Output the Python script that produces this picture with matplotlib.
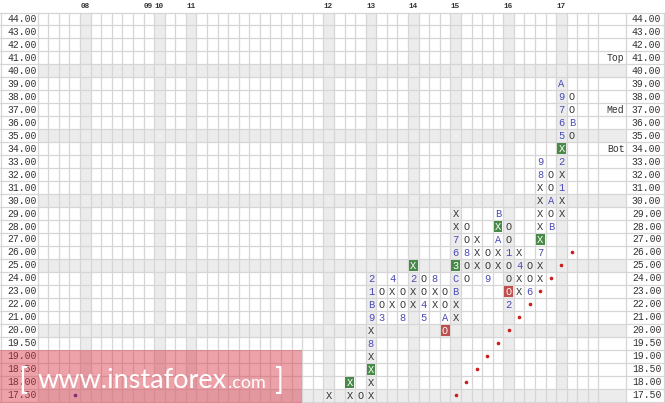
import matplotlib
matplotlib.use('Agg')
import matplotlib.pyplot as plt
from matplotlib.patches import Rectangle

# price levels of the rows, top to bottom
prices = [44, 43, 42, 41, 40, 39, 38, 37, 36, 35, 34, 33, 32, 31, 30, 29, 28, 27, 26, 25,
          24, 23, 22, 21, 20, 19.5, 19, 18.5, 18, 17.5]

# point & figure columns: (column, direction, first price, symbols in drawing order)
pf_columns = [
    (-4, 'up', 17.5, 'X'),
    (-2, 'up', 17.5, 'XX'),
    (-1, 'down', 17.5, 'O'),
    (0, 'up', 17.5, 'XXXX8X9B12'),
    (1, 'down', 23, 'OO3'),
    (2, 'up', 22, 'XX4'),
    (3, 'down', 23, 'OO8'),
    (4, 'up', 22, 'XX2X'),
    (5, 'down', 24, 'OO45'),
    (6, 'up', 22, 'XX8'),
    (7, 'down', 23, 'OOAO'),
    (8, 'up', 21, 'XXBC367XX'),
    (9, 'down', 28, 'OO8OO'),
    (10, 'up', 25, 'XXX'),
    (11, 'down', 26, 'OO9'),
    (12, 'up', 25, 'XXAXB'),
    (13, 'down', 28, 'OO1OOO2'),
    (14, 'up', 23, 'XX4X'),
    (15, 'down', 25, 'OO6'),
    (16, 'up', 24, 'XX7XXXXX89'),
    (17, 'down', 32, 'OOAOB'),
    (18, 'up', 29, 'XX1X2X5679A'),
    (19, 'down', 38, 'OOBO'),
]

# highlighted boxes (column, price)
green_boxes = [(-2, 18), (0, 18.5), (4, 25), (8, 25), (12, 28), (16, 27), (18, 34)]
red_boxes = [(7, 20), (13, 23)]

# trend line dots
trend_cols = [8, 9, 10, 11, 12, 13, 14, 15, 16, 17, 18, 19]
trend_prices = [17.5, 18, 18.5, 19, 19.5, 20, 21, 22, 23, 24, 25, 26]
old_dot = (-28, 17.5)

# year labels on top
year_cols = [-27, -21, -20, -17, -4, 0, 4, 8, 13, 18]
year_labels = ['08', '09', '10', '11', '12', '13', '14', '15', '16', '17']
shaded_cols = [-27, -20, -17, -4, 0, 4, 8, 13, 18]
shaded_prices = [40, 35, 30, 25, 20, 17.5]

# Top / Med / Bot markers
level_names = ['Top', 'Med', 'Bot']
level_prices = [41, 37, 34]

W, H = 665, 403
C0, CW = 371, 10.58
R0, RH = 19, 12.97
first_col, last_col = -31, 21
lab_right = (626 - C0) / CW

GRID = '#d6d6d6'
SHADE = '#ececec'
INK = '#333333'
MONTH = '#4b4bb8'
MONO = 'Liberation Mono'


def row(p):
    return prices.index(p)


fig = plt.figure(figsize=(W / 100, H / 100), dpi=100)
ax = fig.add_axes([0, 0, 1, 1])
ax.set_xlim(-C0 / CW, (W - C0) / CW)
ax.set_ylim((H - R0) / RH, -R0 / RH)
ax.axis('off')

nrows = len(prices)
x_left = -C0 / CW
x_right = (W - C0) / CW

# shading
for p in shaded_prices:
    ax.add_patch(Rectangle((first_col - 0.5, row(p) - 0.5), lab_right - first_col + 0.5, 1,
                           color=SHADE, lw=0, zorder=0))
for c in shaded_cols:
    ax.add_patch(Rectangle((c - 0.5, -0.5), 1, nrows, color=SHADE, lw=0, zorder=0))

# grid
for r in range(nrows + 1):
    ax.plot([x_left, x_right], [r - 0.5, r - 0.5], color=GRID, lw=0.9, zorder=1)
for c in range(first_col, last_col + 2):
    ax.plot([c - 0.5, c - 0.5], [-0.5, nrows - 0.5], color=GRID, lw=0.9, zorder=1)
for xv in [x_left + 0.05, lab_right, x_right - 0.05]:
    ax.plot([xv, xv], [-0.5, nrows - 0.5], color=GRID, lw=0.9, zorder=1)

# price labels both sides
for i, p in enumerate(prices):
    ax.text(first_col - 0.6, i, '%.2f' % p, ha='right', va='center', fontsize=7,
            family=MONO, color=INK, zorder=2)
    ax.text(x_right - 0.35, i, '%.2f' % p, ha='right', va='center', fontsize=7,
            family=MONO, color=INK, zorder=2)

for name, p in zip(level_names, level_prices):
    ax.text(lab_right - 0.15, row(p), name, ha='right', va='center', fontsize=7,
            family=MONO, color=INK, zorder=2)

for c, lab in zip(year_cols, year_labels):
    ax.text(c - 0.45, -1.0, lab, ha='left', va='center', fontsize=5.5,
            family=MONO, weight='bold', color=INK, zorder=2)

# boxes
boxed = {}
for c, p in green_boxes:
    boxed[(c, p)] = '#4a8a48'
for c, p in red_boxes:
    boxed[(c, p)] = '#c0504d'
for (c, p), col in boxed.items():
    ax.add_patch(Rectangle((c - 0.42, row(p) - 0.42), 0.84, 0.84, color=col, lw=0, zorder=2))

# X / O columns
for c, direction, start, symbols in pf_columns:
    r = row(start)
    step = -1 if direction == 'up' else 1
    for s in symbols:
        p = prices[r]
        if (c, p) in boxed:
            color = 'white'
        elif s in 'XO':
            color = INK
        else:
            color = MONTH
        ax.text(c, r + 0.05, s, ha='center', va='center', fontsize=7.5,
                family=MONO, color=color, zorder=3)
        r += step

# trend line dots
ax.plot(trend_cols, [row(p) for p in trend_prices], 'o', ms=1.6, color='#cc2020',
        lw=0, zorder=3)
ax.plot([old_dot[0]], [row(old_dot[1])], 'o', ms=1.6, color='#3030a0', zorder=3)

# watermark
fig.patches.append(Rectangle((0, 0), 302 / W, 53 / H, transform=fig.transFigure,
                             facecolor='#d9303f', alpha=0.45, lw=0, zorder=10))
fig.text(18 / W, 1 - 390 / H, '[', fontsize=22, color='white', family='Lato',
         va='baseline', ha='left', zorder=11)
fig.text(38 / W, 1 - 388 / H, 'www.instaforex', fontsize=19.5, color='white',
         family='Lato', va='baseline', ha='left', zorder=11)
fig.text(228 / W, 1 - 388 / H, '.com', fontsize=13, color='white',
         family='Lato', va='baseline', ha='left', zorder=11)
fig.text(274 / W, 1 - 390 / H, ']', fontsize=22, color='white', family='Lato',
         va='baseline', ha='left', zorder=11)

fig.savefig('out.png', dpi=100)
